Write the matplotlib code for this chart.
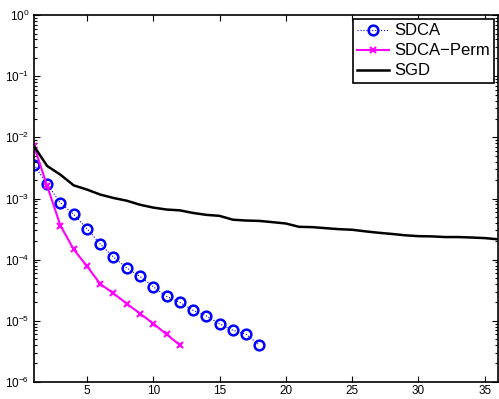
import numpy as np
import matplotlib
matplotlib.use('Agg')
import matplotlib.pyplot as plt
from matplotlib.ticker import FixedLocator

plt.rcParams['font.family'] = ['Liberation Sans', 'DejaVu Sans']
plt.rcParams['mathtext.fontset'] = 'custom'
plt.rcParams['mathtext.rm'] = 'Liberation Sans'
plt.rcParams['mathtext.default'] = 'regular'

# 数据
sdca_x = list(range(1, 19))
sdca_y = [3.6e-3, 1.7e-3, 8.5e-4, 5.5e-4, 3.2e-4, 1.8e-4, 1.1e-4, 7.3e-5, 5.3e-5,
          3.6e-5, 2.5e-5, 2.0e-5, 1.48e-5, 1.2e-5, 8.9e-6, 7.0e-6, 6.0e-6, 4.0e-6]

perm_x = list(range(1, 13))
perm_y = [7.3e-3, 1.6e-3, 3.6e-4, 1.47e-4, 7.8e-5, 4.0e-5, 2.8e-5, 1.9e-5,
          1.31e-5, 9.0e-6, 6.0e-6, 4.0e-6]

sgd_x = list(range(1, 37))
sgd_y = [7.2e-3, 3.4e-3, 2.45e-3, 1.64e-3, 1.4e-3, 1.16e-3, 1.02e-3, 9.2e-4, 7.9e-4,
         7.1e-4, 6.6e-4, 6.4e-4, 5.8e-4, 5.4e-4, 5.2e-4, 4.5e-4, 4.36e-4, 4.3e-4,
         4.1e-4, 3.9e-4, 3.44e-4, 3.4e-4, 3.27e-4, 3.15e-4, 3.08e-4, 2.9e-4, 2.75e-4,
         2.63e-4, 2.5e-4, 2.42e-4, 2.4e-4, 2.34e-4, 2.34e-4, 2.3e-4, 2.25e-4, 2.15e-4]

x_ticks = [5, 10, 15, 20, 25, 30, 35]
y_exps = [-6, -5, -4, -3, -2, -1, 0]

fig = plt.figure(figsize=(4.99, 3.99), dpi=100)
ax = fig.add_axes([0.068, 0.043, 0.93, 0.919])

ax.semilogy(sdca_x, sdca_y, linestyle=':', color='blue', marker='o', markersize=7,
            markerfacecolor='none', markeredgewidth=1.8, linewidth=0.8, label='SDCA')
ax.semilogy(perm_x, perm_y, linestyle='-', color='magenta', marker='x', markersize=5,
            markeredgewidth=1.5, linewidth=1.5, label='SDCA\u2212Perm')
ax.semilogy(sgd_x, sgd_y, linestyle='-', color='black', linewidth=1.8, label='SGD')

ax.set_xlim(1, 36)
ax.set_ylim(1e-6, 1)
ax.xaxis.set_major_locator(FixedLocator(x_ticks))
ax.set_yticks([10.0 ** e for e in y_exps])
ax.set_yticklabels([f'$10^{{{e}}}$' for e in y_exps])
minor = [m * 10.0 ** e for e in y_exps[:-1] for m in range(2, 10)]
ax.yaxis.set_minor_locator(FixedLocator(minor))
ax.tick_params(which='both', direction='in', top=True, right=True, labelsize=8.5, width=0.8)
ax.tick_params(axis='x', pad=2)
ax.tick_params(which='major', length=4)
ax.tick_params(which='minor', length=2)
for s in ax.spines.values():
    s.set_linewidth(1.2)

leg = ax.legend(loc='upper right', fontsize=12, fancybox=False, framealpha=1,
                edgecolor='black', borderaxespad=0.25, handlelength=1.9,
                handletextpad=0.3, borderpad=0.25, labelspacing=0.3)
leg.get_frame().set_linewidth(1.2)

fig.savefig('out.png', dpi=100)
